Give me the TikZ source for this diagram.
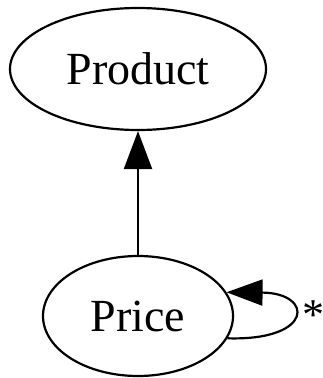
\documentclass[tikz,border=0pt]{standalone}
\usepackage{fontspec}
\setmainfont{Liberation Serif}
\usetikzlibrary{shapes.geometric,arrows.meta}
\begin{document}
\begin{tikzpicture}[x=1pt,y=-1pt,
  classnode/.style={ellipse,draw,line width=2.2pt,inner sep=0pt,font=\fontsize{46}{50}\selectfont},
  link/.style={line width=2.2pt,-{Triangle[length=38pt,width=28pt]}}]
\useasboundingbox (0,0) rectangle (323,378);
\node[classnode,minimum width=256pt,minimum height=122pt] (product) at (138,69) {Product};
\node[classnode,minimum width=190pt,minimum height=120pt] (price) at (138,316) {Price};
\draw[link] (price) -- (product);
\draw[line width=2.2pt,-{Triangle[length=36pt,width=26pt]}] (price.-14) .. controls (314,341) and (314,293) .. (price.15);
\node[anchor=base,inner sep=0pt,font=\fontsize{44}{50}\selectfont] (mult) at (313,329) {*};
\end{tikzpicture}
\end{document}
